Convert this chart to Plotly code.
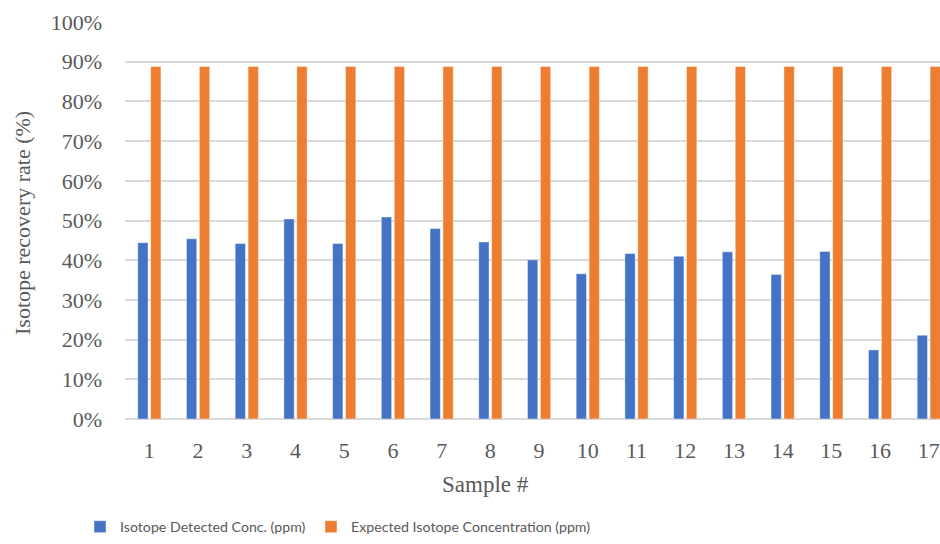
import plotly.graph_objects as go

samples = [str(i) for i in range(1, 18)]
detected = [44.4, 45.4, 44.2, 50.4, 44.2, 50.9, 48.0, 44.6, 40.1, 36.6,
            41.7, 41.0, 42.1, 36.4, 42.2, 17.4, 21.1]
expected = [88.8] * 17
y_ticks = list(range(0, 101, 10))

fig = go.Figure()
fig.add_trace(go.Bar(
    x=samples, y=[v / 100 for v in detected],
    name="Isotope Detected Conc. (ppm)", legend="legend",
    marker=dict(color="#4472c4", line=dict(color="rgba(255,255,255,0.45)", width=1)),
))
fig.add_trace(go.Bar(
    x=samples, y=[v / 100 for v in expected],
    name="Expected Isotope Concentration (ppm)", legend="legend2",
    marker=dict(color="#ed7d31", line=dict(color="rgba(255,255,255,0.45)", width=1)),
))

serif = "Liberation Serif, Times New Roman, serif"
axis_font = dict(family=serif, size=22, color="#595959")
legend_font = dict(family="Lato, Roboto, sans-serif", size=14.2, color="#595959")

fig.update_layout(
    width=940, height=544,
    margin=dict(l=125, r=0, t=22, b=125),
    paper_bgcolor="white", plot_bgcolor="white",
    barmode="group", bargap=0.47, bargroupgap=0.2,
    showlegend=True,
    legend=dict(
        orientation="h", x=(80 - 125) / 815, xanchor="left", y=-0.272, yanchor="middle",
        font=legend_font, itemwidth=30, bgcolor="rgba(0,0,0,0)",
    ),
    legend2=dict(
        orientation="h", x=(311 - 125) / 815, xanchor="left", y=-0.272, yanchor="middle",
        font=legend_font, itemwidth=30, bgcolor="rgba(0,0,0,0)",
    ),
    xaxis=dict(
        type="category", range=[-0.5, 16.23],
        showgrid=False, showline=False, zeroline=False,
        ticks="", tickfont=axis_font, ticklabelstandoff=16,
    ),
    yaxis=dict(
        range=[0, 1.0], tickvals=[t / 100 for t in y_ticks],
        ticktext=[f"{t}%" for t in y_ticks],
        showgrid=True, gridcolor="#d9d9d9", gridwidth=1.5,
        zeroline=True, zerolinecolor="#d9d9d9", zerolinewidth=1.5,
        showline=False, ticks="", tickfont=axis_font, ticklabelstandoff=22,
    ),
    annotations=[
        dict(text="Sample #", xref="paper", yref="paper",
             x=(485 - 125) / 815, y=-(485 - 419) / 397,
             xanchor="center", yanchor="middle", showarrow=False,
             font=dict(family=serif, size=23, color="#595959")),
        dict(text="Isotope recovery rate (%)", xref="paper", yref="paper",
             x=-(125 - 22) / 815, y=(419 - 223) / 397, textangle=-90,
             xanchor="center", yanchor="middle", showarrow=False,
             font=dict(family=serif, size=22, color="#595959")),
    ],
)

fig.write_html("out.html")
